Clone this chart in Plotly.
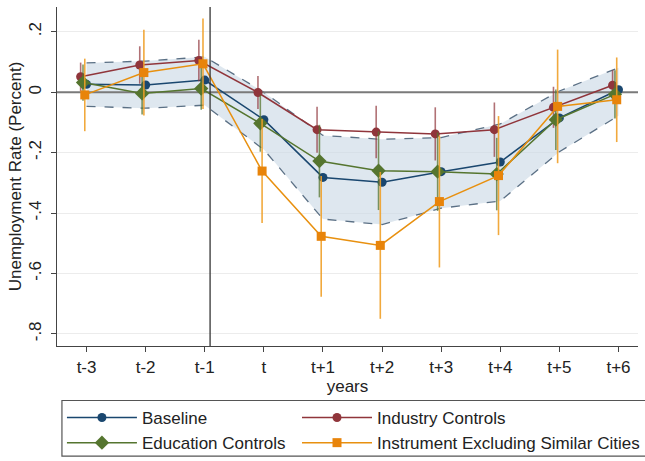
import plotly.graph_objects as go

periods = ["t-3", "t-2", "t-1", "t", "t+1", "t+2", "t+3", "t+4", "t+5", "t+6"]
y_ticks = [-0.8, -0.6, -0.4, -0.2, 0.0, 0.2]
y_tick_text = ["-.8", "-.6", "-.4", "-.2", "0", ".2"]

baseline = [0.026, 0.024, 0.040, -0.091, -0.282, -0.298, -0.263, -0.231, -0.085, 0.008]
baseline_hi = [0.097, 0.103, 0.117, 0.000, -0.143, -0.156, -0.150, -0.105, 0.004, 0.081]
baseline_lo = [-0.047, -0.053, -0.043, -0.190, -0.420, -0.438, -0.384, -0.360, -0.197, -0.078]

industry = [0.051, 0.090, 0.105, -0.001, -0.124, -0.132, -0.138, -0.124, -0.050, 0.023]
industry_err = [0.047, 0.062, 0.069, 0.055, 0.076, 0.087, 0.088, 0.090, 0.068, 0.050]

education = [0.032, -0.004, 0.012, -0.103, -0.228, -0.260, -0.263, -0.271, -0.091, -0.007]
education_err = [0.060, 0.070, 0.070, 0.094, 0.120, 0.130, 0.130, 0.120, 0.100, 0.080]

instrument = [-0.009, 0.065, 0.094, -0.261, -0.477, -0.507, -0.362, -0.276, -0.047, -0.025]
instrument_err = [0.120, 0.142, 0.150, 0.172, 0.200, 0.243, 0.218, 0.197, 0.188, 0.140]

FONT = "Liberation Sans, Arial, sans-serif"
idx = list(range(len(periods)))
x_range = [-0.5, 9.33]
y_range = [-0.84, 0.282]

def shifted(d):
    return [i + d for i in idx]

fig = go.Figure()

# confidence band for baseline
fig.add_trace(go.Scatter(x=idx, y=baseline_hi, mode="lines",
                         line=dict(color="#5b7085", width=1.3, dash="dash"),
                         showlegend=False, hoverinfo="skip"))
fig.add_trace(go.Scatter(x=idx, y=baseline_lo, mode="lines",
                         line=dict(color="#5b7085", width=1.3, dash="dash"),
                         fill="tonexty", fillcolor="rgba(205,218,230,0.65)",
                         showlegend=False, hoverinfo="skip"))
# reference line at zero
fig.add_trace(go.Scatter(x=x_range, y=[0, 0], mode="lines",
                         line=dict(color="#7a7a7a", width=2),
                         showlegend=False, hoverinfo="skip"))

fig.add_trace(go.Scatter(x=shifted(0.0), y=baseline, mode="lines+markers", name="Baseline",
                         line=dict(color="#1a476f", width=1.5),
                         marker=dict(symbol="circle", size=9, color="#1a476f"),
                         legend="legend"))
fig.add_trace(go.Scatter(x=shifted(-0.1), y=industry, mode="lines+markers", name="Industry Controls",
                         line=dict(color="#90353b", width=1.5),
                         marker=dict(symbol="circle", size=9, color="#90353b"),
                         error_y=dict(type="data", array=industry_err, width=0, thickness=1.6,
                                      color="rgba(144,53,59,0.7)"),
                         legend="legend2"))
fig.add_trace(go.Scatter(x=shifted(-0.06), y=education, mode="lines+markers", name="Education Controls",
                         line=dict(color="#55752f", width=1.5),
                         marker=dict(symbol="diamond", size=11, color="#55752f"),
                         error_y=dict(type="data", array=education_err, width=0, thickness=1.6,
                                      color="rgba(85,117,47,0.75)"),
                         legend="legend"))
fig.add_trace(go.Scatter(x=shifted(-0.03), y=instrument, mode="lines+markers",
                         name="Instrument Excluding Similar Cities",
                         line=dict(color="#e8900f", width=1.5),
                         marker=dict(symbol="square", size=9, color="#e8840a"),
                         error_y=dict(type="data", array=instrument_err, width=0, thickness=1.6,
                                      color="rgba(240,160,40,0.9)"),
                         legend="legend2"))

PLOT_W, PLOT_H = 588, 342
leg_common = dict(orientation="v", yanchor="top", xanchor="left", itemwidth=70,
                  font=dict(size=17), borderwidth=0, bgcolor="rgba(0,0,0,0)",
                  traceorder="normal", tracegroupgap=0)
fig.update_layout(
    width=645, height=461,
    margin=dict(l=57, r=0, t=7, b=112),
    paper_bgcolor="white", plot_bgcolor="white",
    font=dict(family=FONT, size=17, color="#222"),
    shapes=[
        dict(type="line", xref="x", yref="paper", x0=2.09, x1=2.09, y0=0, y1=1,
             line=dict(color="#333", width=1.3)),
        dict(type="rect", xref="paper", yref="paper",
             x0=(62 - 57) / PLOT_W, x1=1.05, y0=-(404 - 349) / PLOT_H, y1=-(460 - 349) / PLOT_H,
             line=dict(color="#555", width=1.2)),
    ],
    xaxis=dict(range=x_range, tickvals=idx, ticktext=periods, showgrid=False,
               zeroline=False, showline=True, linecolor="#444", linewidth=1.3,
               ticks="outside", ticklen=5, tickcolor="#444", automargin=False,
               tickfont=dict(size=17), title=dict(text="years", standoff=0, font=dict(size=17))),
    yaxis=dict(range=y_range, tickvals=y_ticks, ticktext=y_tick_text, tickangle=-90,
               showgrid=True, gridcolor="#ececec", gridwidth=1, zeroline=False,
               showline=True, linecolor="#444", linewidth=1.3, automargin=False,
               ticks="outside", ticklen=5, tickcolor="#444", tickfont=dict(size=17),
               ticklabelstandoff=3,
               title=dict(text="Unemployment Rate (Percent)", standoff=0, font=dict(size=17))),
    legend=dict(x=(62 - 57) / PLOT_W, y=-(404 - 349) / PLOT_H, **leg_common),
    legend2=dict(x=(300 - 57) / PLOT_W, y=-(404 - 349) / PLOT_H, **leg_common),
)

fig.write_html("out.html", config={"displayModeBar": False},
               post_script="document.body.style.margin='0';document.body.style.padding='0';")
